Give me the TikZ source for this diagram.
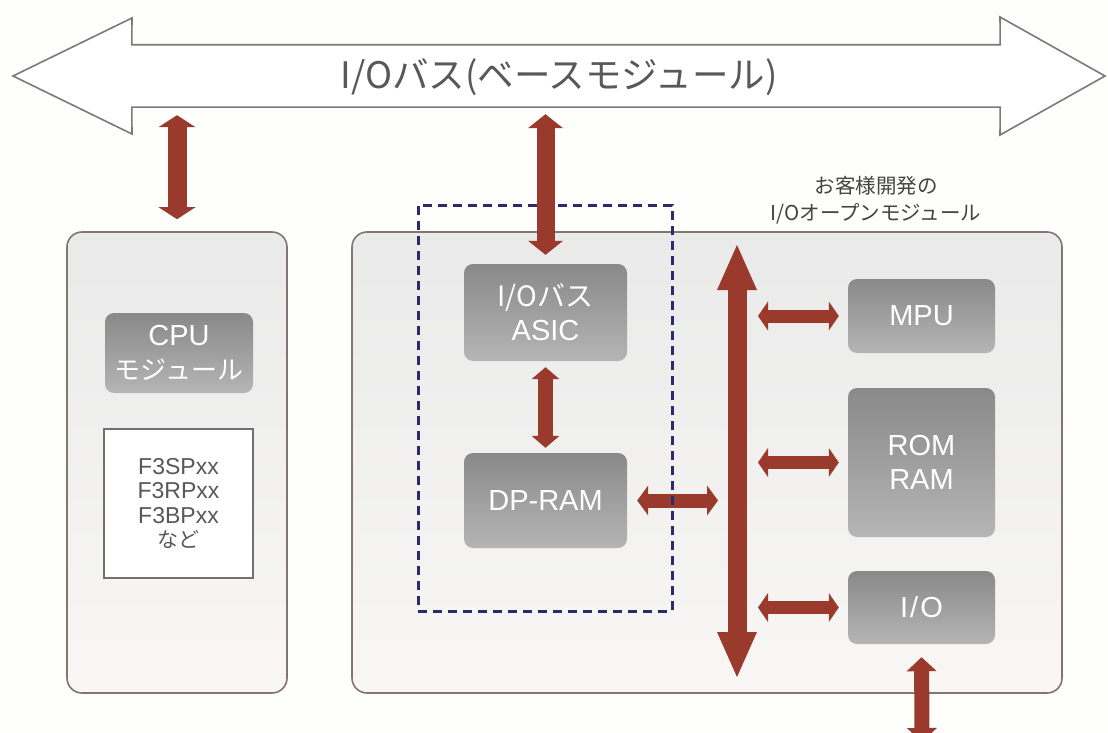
\documentclass[tikz,border=0pt]{standalone}
\usepackage{fontspec}
\setmainfont{Liberation Sans}
\newfontfamily\jp{Noto Sans CJK JP}
\usetikzlibrary{arrows.meta}
\definecolor{arrowred}{HTML}{9A3A2D}
\definecolor{modline}{HTML}{857571}
\definecolor{modtop}{HTML}{EAEAEA}
\definecolor{modbot}{HTML}{F8F7F5}
\definecolor{boxtop}{HTML}{898989}
\definecolor{boxbot}{HTML}{B5B5B5}
\definecolor{dashblue}{HTML}{2B2A6B}
\definecolor{busline}{HTML}{7A7A7A}
\definecolor{titlegray}{HTML}{585858}
\definecolor{labelgray}{HTML}{444444}
\definecolor{listline}{HTML}{707070}
\definecolor{pagebg}{HTML}{FEFEFC}
\begin{document}
\begin{tikzpicture}[x=1pt,y=-1pt,
  modbox/.style={draw=modline, line width=1.6pt, rounded corners=15pt, top color=modtop, bottom color=modbot, inner sep=0pt},
  gbox/.style={rounded corners=9pt, top color=boxtop, bottom color=boxbot, text=white, align=center, inner sep=0pt, font=\fontsize{29}{34}\selectfont},
  dbl/.style n args={3}{draw=arrowred, line width=#1, arrows={Triangle[width=#2,length=#3,line width=0pt]-Triangle[width=#2,length=#3,line width=0pt]}},
]
\clip (0,0) rectangle (1108,733);
\fill[pagebg] (0,0) rectangle (1108,733);

% I/O bus (base module)
\node[minimum width=868pt, minimum height=62pt, inner sep=0pt] (bus) at (566,76) {};
\draw[busline, line width=1.6pt, fill=white]
  (13,76) -- (132,18) -- (bus.north west) -- (bus.north east) -- (1000,17) -- (1105,76)
  -- (1000,135) -- (bus.south east) -- (bus.south west) -- (132,134) -- cycle;
\node[font=\jp\fontsize{36.5}{40}\selectfont, text=titlegray] (title) at (559,77) {I/Oバス(ベースモジュール)};

% modules
\node[modbox, minimum width=220pt, minimum height=461pt] (cpumod) at (177,462.5) {};
\node[modbox, minimum width=710pt, minimum height=461pt] (openmod) at (707,462.5) {};
\node[font=\jp\fontsize{20.5}{27}\selectfont, text=labelgray, align=center] (oplabel) at (876,200) {お客様開発の\\I/Oオープンモジュール};

% CPU module contents
\node[gbox, minimum width=148pt, minimum height=80pt] (cpu) at (179,353) {CPU\\{\jp\fontsize{26}{33}\selectfont モジュール}};
\node[draw=listline, line width=1.6pt, fill=white, minimum width=149pt, minimum height=149pt, inner sep=0pt, align=center, text=titlegray, font=\fontsize{23}{24.5}\selectfont] (list) at (178.5,503.5) {F3SPxx\\F3RPxx\\F3BPxx\\{\jp\fontsize{21}{24.5}\selectfont など}};

% open module contents
\node[gbox, minimum width=163pt, minimum height=97pt] (asic) at (545.5,312.5) {{\jp\fontsize{28}{34}\selectfont I/Oバス}\\ASIC};
\node[gbox, minimum width=163pt, minimum height=95pt] (dpram) at (545.5,500.5) {DP-RAM};
\node[gbox, minimum width=147pt, minimum height=74pt] (mpu) at (921.5,316) {MPU};
\node[gbox, minimum width=147pt, minimum height=149pt] (romram) at (921.5,462.5) {ROM\\RAM};
\node[gbox, minimum width=147pt, minimum height=73pt] (io) at (921.5,607.5) {I\kern2pt/\kern2pt O};

% internal bus
\coordinate (vbtop) at (737,245);
\coordinate (vbbot) at (737,677);
\coordinate (ioout) at (922,742);

\draw[dbl={14pt}{30pt}{11pt}, shorten <=10pt, shorten >=19pt] (dpram.east) -- (dpram.east -| vbtop);

% dashed group
\node[draw=dashblue, line width=3pt, dash pattern=on 9pt off 6pt, minimum width=254pt, minimum height=406pt, inner sep=0pt] (asicgroup) at (545,408) {};

\draw[dbl={19pt}{37pt}{12pt}, shorten <=8pt, shorten >=12pt] (bus.south -| cpumod.north) -- (cpumod.north);
\draw[dbl={18pt}{35pt}{14pt}, shorten <=7pt, shorten >=9pt] (bus.south -| asic.north) -- (asic.north);
\draw[dbl={15pt}{28pt}{12pt}, shorten <=6pt, shorten >=5pt] (asic.south) -- (dpram.north);
\draw[dbl={19pt}{40pt}{45pt}] (vbtop) -- (vbbot);
\draw[dbl={13pt}{29pt}{10pt}, shorten <=21pt, shorten >=9pt] (vbtop |- mpu.west) -- (mpu.west);
\draw[dbl={13pt}{29pt}{10pt}, shorten <=21pt, shorten >=9pt] (vbtop |- romram.west) -- (romram.west);
\draw[dbl={13pt}{29pt}{10pt}, shorten <=21pt, shorten >=9pt] (vbtop |- io.west) -- (io.west);
\draw[dbl={15pt}{30pt}{14pt}, shorten <=13pt] (io.south) -- (ioout);
\end{tikzpicture}
\end{document}
